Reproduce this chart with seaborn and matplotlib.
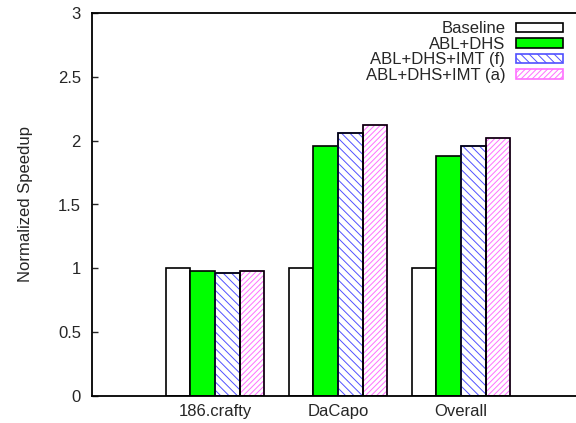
import pandas as pd
import matplotlib
matplotlib.use("Agg")
import matplotlib.pyplot as plt
from matplotlib.patches import Rectangle
import seaborn as sns

# data
benchmarks = ["186.crafty", "DaCapo", "Overall"]
configs = ["Baseline", "ABL+DHS", "ABL+DHS+IMT (f)", "ABL+DHS+IMT (a)"]
baseline = [1.00, 1.00, 1.00]
abl_dhs = [0.98, 1.96, 1.88]
imt_f = [0.96, 2.06, 1.96]
imt_a = [0.98, 2.12, 2.02]
yticks = [0, 0.5, 1, 1.5, 2, 2.5, 3]
ytick_labels = ["0", "0.5", "1", "1.5", "2", "2.5", "3"]

face = {"Baseline": "white", "ABL+DHS": "#00ff00",
        "ABL+DHS+IMT (f)": "white", "ABL+DHS+IMT (a)": "white"}
hatch = {"ABL+DHS+IMT (f)": ("\\\\\\\\", "#5050ff"), "ABL+DHS+IMT (a)": ("//////", "#ff70ff")}

rows = []
for cfg, vals in zip(configs, [baseline, abl_dhs, imt_f, imt_a]):
    for b, v in zip(benchmarks, vals):
        rows.append({"bench": b, "config": cfg, "speedup": v})
df = pd.DataFrame(rows)

sns.set_style("ticks")
plt.rcParams["font.family"] = ["Liberation Sans", "DejaVu Sans"]
plt.rcParams["hatch.linewidth"] = 0.7

fig = plt.figure(figsize=(5.76, 4.23), dpi=100)
ax = fig.add_axes([92 / 576, 1 - 396 / 423, 492 / 576, 383 / 423])

sns.barplot(data=df, x="bench", y="speedup", hue="config", order=benchmarks,
            hue_order=configs, palette=face, saturation=1, width=0.8,
            edgecolor="black", linewidth=1.2, errorbar=None, ax=ax)

handles = []
for cfg, cont in zip(configs, ax.containers):
    for p in cont.patches:
        if cfg in hatch:
            h, hc = hatch[cfg]
            p.set_hatch(h)
            try:
                p.set_hatchcolor(hc)
            except AttributeError:
                p.set_edgecolor(hc)
                ax.add_patch(Rectangle(p.get_xy(), p.get_width(), p.get_height(),
                                       fill=False, edgecolor="black", linewidth=1.2,
                                       zorder=p.get_zorder() + 0.1))
    handles.append(cont.patches[0])

if ax.legend_:
    ax.legend_.remove()
leg = ax.legend(handles, configs, loc="upper right", bbox_to_anchor=(0.957, 0.978),
                frameon=False, markerfirst=False, fontsize=12, borderpad=0,
                borderaxespad=0, labelspacing=0.03, handlelength=2.8,
                handleheight=0.5, handletextpad=0.65)

ax.set_xlim(-1, 3)
ax.set_ylim(0, 3)
ax.set_yticks(yticks)
ax.set_yticklabels(ytick_labels)
ax.set_xlabel("")
ax.set_ylabel("Normalized Speedup", fontsize=12)
ax.yaxis.set_label_coords(-0.12, 0.5)
ax.tick_params(axis="y", direction="in", length=4.5, width=1, labelsize=12, pad=8)
ax.tick_params(axis="x", length=0, labelsize=12, pad=6)
ax.spines["right"].set_visible(False)
for s in ax.spines.values():
    s.set_linewidth(1.3)
    s.set_color("black")

fig.savefig("out.png", dpi=100)
